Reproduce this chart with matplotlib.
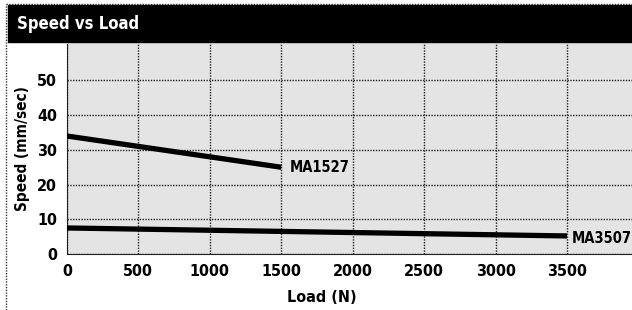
import matplotlib
matplotlib.use("Agg")
from matplotlib import pyplot as plt
from matplotlib.lines import Line2D
from matplotlib.patches import Rectangle

# data
load_1527 = [0, 1500]
speed_1527 = [34, 25]
load_3507 = [0, 3500]
speed_3507 = [7.5, 5.2]
x_ticks = [0, 500, 1000, 1500, 2000, 2500, 3000, 3500]
y_ticks = [0, 10, 20, 30, 40, 50]

plt.rcParams['font.family'] = ['DejaVu Sans']
plt.rcParams['font.stretch'] = 'condensed'
plt.rcParams['font.weight'] = 'bold'

W, H = 632, 310
fig = plt.figure(figsize=(W / 100, H / 100), dpi=100)

# title bar and dotted frame
fig.patches.append(Rectangle((8 / W, (H - 42) / H), 1 - 8 / W, 37 / H,
                             transform=fig.transFigure, color='black', zorder=0))
fig.text(17 / W, (H - 24) / H, "Speed vs Load", color='white', fontsize=12,
         fontweight='bold', va='center', ha='left')
fig.lines.append(Line2D([6 / W, 6 / W], [0, (H - 4) / H], transform=fig.transFigure,
                        color='#333333', lw=1, linestyle=(0, (1, 1))))
fig.lines.append(Line2D([6 / W, 1], [(H - 4) / H, (H - 4) / H], transform=fig.transFigure,
                        color='#333333', lw=1, linestyle=(0, (1, 1))))

ax = fig.add_axes([67 / W, (H - 254) / H, 1 - 67 / W, 211 / H])
ax.set_facecolor('#e4e4e4')
ax.set_xlim(0, 3955)
ax.set_ylim(0, 60.8)

ax.plot(load_1527, speed_1527, color='black', lw=3.8, solid_capstyle='butt', zorder=3)
ax.plot(load_3507, speed_3507, color='black', lw=3.8, solid_capstyle='butt', zorder=3)
ax.text(1560, speed_1527[-1], "MA1527", fontsize=10.5, fontweight='bold', va='center', ha='left')
ax.text(3530, speed_3507[-1] - 0.6, "MA3507", fontsize=10.5, fontweight='bold', va='center', ha='left')

ax.set_xticks(x_ticks)
ax.set_yticks(y_ticks)
ax.tick_params(length=0, labelsize=11.5, pad=7)
for lab in ax.get_xticklabels() + ax.get_yticklabels():
    lab.set_fontweight('bold')
ax.grid(True, color='#222222', lw=1, linestyle=(0, (1, 1)))
ax.set_axisbelow(True)

for s in ['top', 'right']:
    ax.spines[s].set_visible(False)
for s in ['left', 'bottom']:
    ax.spines[s].set_linestyle((0, (1, 1)))
    ax.spines[s].set_color('#222222')

ax.set_xlabel("Load (N)", fontsize=11.5, fontweight='bold')
ax.xaxis.set_label_coords((322 - 67) / (W - 67), -(290 - 254) / 211)
ax.set_ylabel("Speed (mm/sec)", fontsize=11, fontweight='bold')
ax.yaxis.set_label_coords(-(67 - 30) / (W - 67), (254 - 149) / 211)

fig.savefig("out.png", dpi=100)
